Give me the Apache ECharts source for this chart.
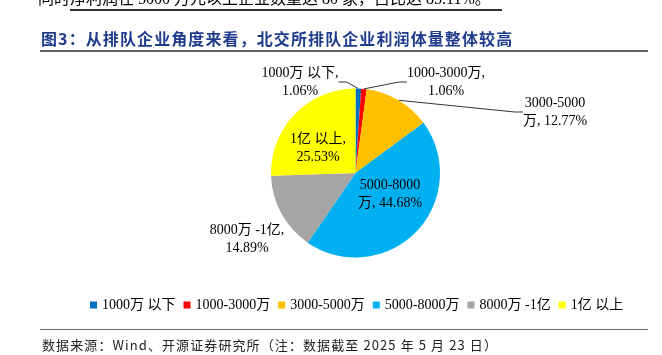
<!DOCTYPE html>
<html>
<head>
<meta charset="utf-8">
<script src="https://cdn.jsdelivr.net/npm/echarts@6/dist/echarts.min.js"></script>
<style>
html,body{margin:0;padding:0;background:#fff;overflow:hidden;}
#wrap{position:relative;width:662px;height:355px;}
#c{position:absolute;left:0;top:0;width:662px;height:355px;}
.t{position:absolute;white-space:nowrap;}
.rule{position:absolute;}
</style>
</head>
<body>
<div id="wrap">
<div id="c"></div>
<div class="t" style="left:38px;top:-10px;font:16px/18px 'Liberation Serif','Noto Sans CJK SC',serif;color:#000;">同时净利润在 5000 万元以上企业数量达 80 家，占比达 85.11%。</div>
<div class="rule" style="left:70px;top:9px;width:432px;height:1.5px;background:#333;"></div>
<div class="t" style="left:41px;top:29px;font:bold 16px/18px 'Noto Sans CJK SC';letter-spacing:1.1px;color:#1F3C8C;">图3：从排队企业角度来看，北交所排队企业利润体量整体较高</div>
<div class="rule" style="left:40px;top:50px;width:608px;height:1.5px;background:#666;"></div>
<div class="rule" style="left:40px;top:328.5px;width:608px;height:1.2px;background:#666;"></div>
<div class="t" style="left:42px;top:337px;font:13px/16px 'Noto Sans CJK SC';letter-spacing:1.1px;color:#222;">数据来源：Wind、开源证券研究所（注：数据截至 2025 年 5 月 23 日）</div>
</div>
<script>
const categories = ['1000万以下', '1000-3000万', '3000-5000万', '5000-8000万', '8000万-1亿', '1亿以上'];
const values = [1.06, 1.06, 12.77, 44.68, 14.89, 25.53];
const labelTexts = ['1000万 以下,\n1.06%', '1000-3000万,\n1.06%', '3000-5000\n万, 12.77%', '5000-8000\n万, 44.68%', '8000万 -1亿,\n14.89%', '1亿 以上,\n25.53%'];
const colors = ['#0070C0', '#FF0000', '#FFC000', '#00B0F0', '#A5A5A5', '#FFFF00'];

const serif = '"Liberation Serif", "Noto Sans CJK SC", serif';
const labelPos = [
  {x: 300, y: 82, line: true},
  {x: 446, y: 82, line: true},
  {x: 555, y: 112, line: true},
  {x: 390, y: 194, line: false},
  {x: 247, y: 239.5, line: false},
  {x: 318, y: 148.5, line: false}
];

const chart = echarts.init(document.getElementById('c'));
chart.setOption({
  animation: false,
  color: colors,
  legend: {
    left: 85, top: 293,
    icon: 'rect', itemWidth: 7, itemHeight: 7, itemGap: 8,
    textStyle: {fontFamily: serif, fontSize: 14, color: '#000'},
    formatter: n => n.replace('万以下', '万 以下').replace('万-', '万 -').replace('亿以上', '亿 以上'),
    data: categories
  },
  series: [{
    type: 'pie',
    center: [355.5, 173],
    radius: 84.5,
    startAngle: 90,
    clockwise: true,
    itemStyle: {borderWidth: 0},
    label: {
      show: true,
      position: 'outside',
      fontFamily: serif, fontSize: 14, color: '#000', lineHeight: 18, align: 'center',
      formatter: p => labelTexts[p.dataIndex]
    },
    labelLine: {show: true, lineStyle: {color: '#000', width: 0.8}, length: 8, length2: 8},
    labelLayout: p => {
      const lp = labelPos[p.dataIndex];
      return {x: lp.x, y: lp.y, align: 'center', verticalAlign: 'middle'};
    },
    data: categories.map((c, i) => ({
      name: c, value: values[i],
      labelLine: {show: labelPos[i].line}
    }))
  }]
});
</script>
</body>
</html>
